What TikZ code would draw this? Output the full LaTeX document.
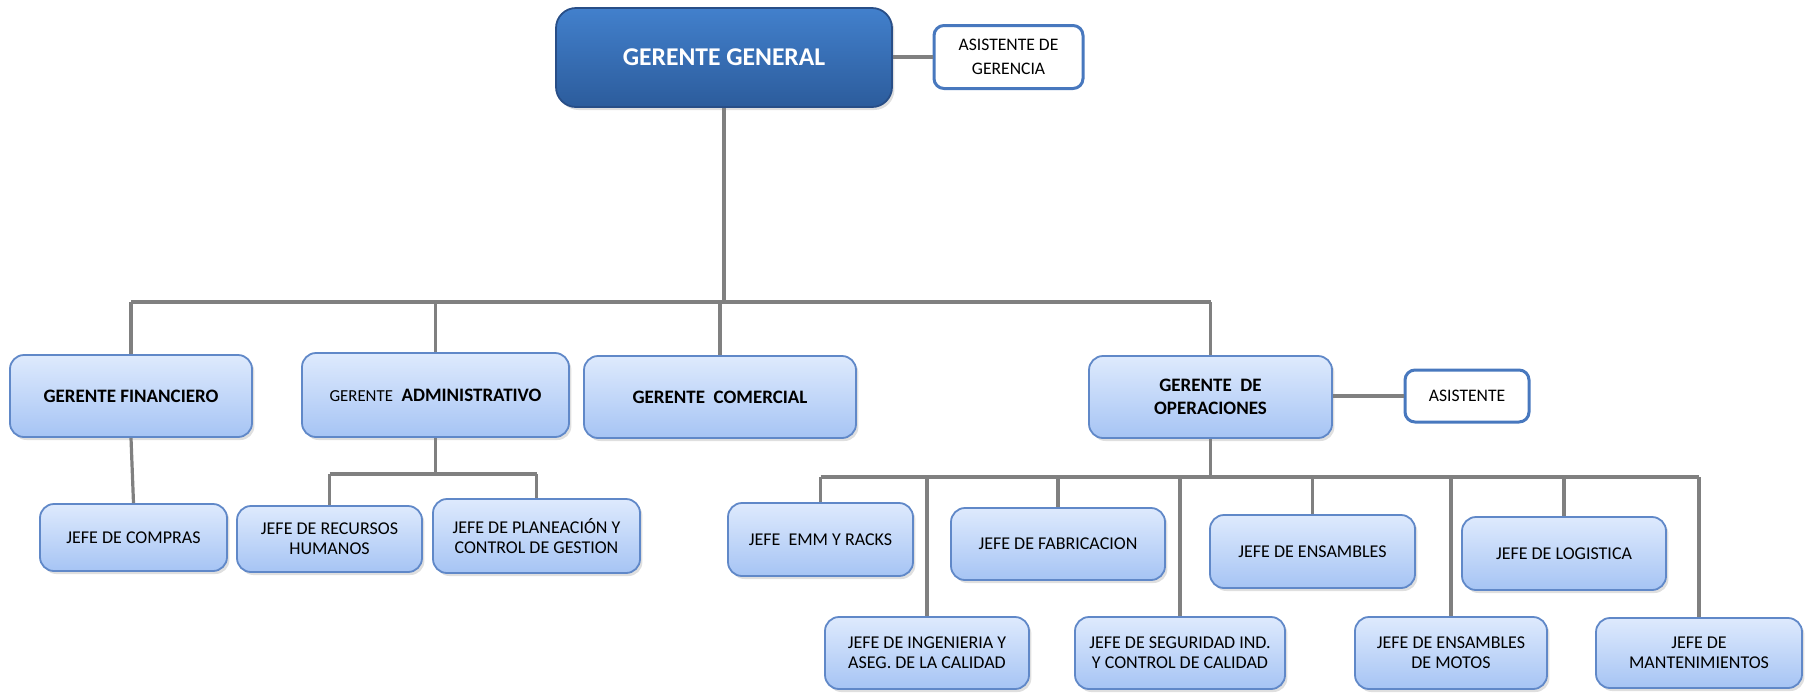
\documentclass[tikz,border=0pt]{standalone}
\usepackage{fontspec}
\setmainfont{Carlito}
\usetikzlibrary{shadows}
\definecolor{azulgg}{RGB}{66,128,204}
\definecolor{azulggb}{RGB}{44,92,156}
\definecolor{bordegg}{RGB}{40,78,135}
\definecolor{celeste}{RGB}{222,234,253}
\definecolor{celesteb}{RGB}{166,196,244}
\definecolor{bordecaja}{RGB}{96,136,200}
\definecolor{bordeasis}{RGB}{72,120,190}
\definecolor{conector}{RGB}{128,128,128}
\tikzset{
  caja/.style={draw=bordecaja, line width=0.9pt, rounded corners=7pt,
    top color=celeste, bottom color=celesteb, inner sep=0pt, align=center,
    drop shadow={opacity=0.25, shadow xshift=1.2pt, shadow yshift=-1.5pt}},
  gerente/.style={caja, font=\bfseries\fontsize{9.5}{11.5}\selectfont},
  jefe/.style={caja, font=\fontsize{9}{9.8}\selectfont},
  general/.style={caja, draw=bordegg, rounded corners=10pt,
    top color=azulgg, bottom color=azulggb, text=white,
    font=\bfseries\fontsize{12.8}{15}\selectfont},
  asist/.style={draw=bordeasis, line width=1.5pt, rounded corners=5pt, fill=white,
    inner sep=0pt, align=center, font=\fontsize{8.8}{12}\selectfont},
  linea/.style={draw=conector, line width=1.6pt},
}
\begin{document}
\begin{tikzpicture}[x=0.5pt, y=-0.5pt]
  \useasboundingbox (0,0) rectangle (1807,692);
  % (nombre, estilo, x, y, ancho, alto, texto), todo en pixeles del original
  \foreach \xn/\xs/\xx/\xy/\xw/\xh/\xtxt in {
    gg/general/724/57.5/336/99/{GERENTE GENERAL},
    asis/asist/1008.5/57/149/63/{ASISTENTE DE\\GERENCIA},
    fin/gerente/131/396/242/82/{GERENTE FINANCIERO},
    adm/gerente/435.5/395/267/84/{{\mdseries\fontsize{8.4}{10}\selectfont GERENTE}~~ADMINISTRATIVO},
    com/gerente/720/397/272/82/{GERENTE~~COMERCIAL},
    ope/gerente/1210.5/397/243/82/{GERENTE~~DE\\OPERACIONES},
    asop/asist/1467/396/124/52/{ASISTENTE},
    compras/jefe/133.5/537.5/187/67/{JEFE DE COMPRAS},
    rrhh/jefe/329.5/539/185/66/{JEFE DE RECURSOS\\HUMANOS},
    plan/jefe/536.5/536/207/74/{JEFE DE PLANEACIÓN Y\\CONTROL DE GESTION},
    emm/jefe/820.5/539.5/185/73/{JEFE~~EMM Y RACKS},
    fab/jefe/1058/544/214/72/{JEFE DE FABRICACION},
    ens/jefe/1312.5/551.5/205/73/{JEFE DE ENSAMBLES},
    log/jefe/1564/553.5/204/73/{JEFE DE LOGISTICA},
    ing/jefe/927/653/204/72/{JEFE DE INGENIERIA Y\\ASEG. DE LA CALIDAD},
    seg/jefe/1180/653/210/72/{JEFE DE SEGURIDAD IND.\\Y CONTROL DE CALIDAD},
    motos/jefe/1451/653/192/72/{JEFE DE ENSAMBLES\\DE MOTOS},
    mant/jefe/1699/653/206/70/{JEFE DE\\MANTENIMIENTOS}}
  {
    \node[\xs, minimum width={\xw*0.5pt}, minimum height={\xh*0.5pt}] (\xn) at (\xx,\xy) {\xtxt};
  }
  % primer nivel
  \coordinate (barra) at (0,302);
  \draw[linea] (gg.east |- asis.west) -- (asis.west);
  \draw[linea] (gg.south) -- (gg.south |- barra);
  \draw[linea] (fin.north |- barra) -- (ope.north |- barra);
  \foreach \xn in {fin,adm,com,ope}
    \draw[linea] (\xn.north |- barra) -- (\xn.north);
  \draw[linea] (ope.east |- asop.west) -- (asop.west);
  % financiero y administrativo
  \draw[linea] (fin.south) -- (compras.north);
  \coordinate (barraadm) at (0,474);
  \draw[linea] (adm.south) -- (adm.south |- barraadm);
  \draw[linea] (rrhh.north |- barraadm) -- (plan.north |- barraadm);
  \foreach \xn in {rrhh,plan}
    \draw[linea] (\xn.north |- barraadm) -- (\xn.north);
  % operaciones
  \coordinate (barraope) at (0,477);
  \draw[linea] (ope.south) -- (ope.south |- barraope);
  \draw[linea] (emm.north |- barraope) -- (mant.north |- barraope);
  \foreach \xn in {emm,ing,fab,seg,ens,motos,log,mant}
    \draw[linea] (\xn.north |- barraope) -- (\xn.north);
\end{tikzpicture}
\end{document}
